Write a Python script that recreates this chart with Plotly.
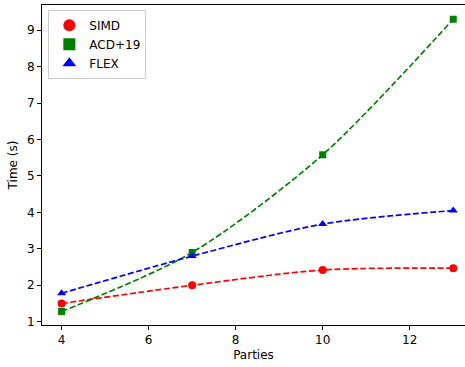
import plotly.graph_objects as go

parties = [4, 7, 10, 13]
simd = [1.50, 2.00, 2.42, 2.47]
acd19 = [1.28, 2.90, 5.58, 9.30]
flex = [1.78, 2.80, 3.68, 4.05]

series = [
    ("SIMD", simd, "red", "circle", 8),
    ("ACD+19", acd19, "green", "square", 7),
    ("FLEX", flex, "blue", "triangle-up", 8),
]

fig = go.Figure()
for name, ys, color, sym, sz in series:
    fig.add_trace(go.Scatter(
        x=parties, y=ys, mode="lines", showlegend=False,
        line=dict(color=color, dash="6px,2.6px", width=1.7, shape="spline", smoothing=0.8),
        hoverinfo="skip"))
for name, ys, color, sym, sz in series:
    fig.add_trace(go.Scatter(
        x=parties, y=ys, mode="markers", name=name,
        marker=dict(color=color, symbol=sym, size=sz)))

axis_common = dict(showgrid=False, zeroline=False, showline=True, linecolor="black",
                   linewidth=1, ticks="outside", ticklen=4, tickcolor="black",
                   tickfont=dict(family="DejaVu Sans", size=12, color="black"))

fig.update_layout(
    width=465, height=367,
    margin=dict(l=42, r=0, t=5, b=42),
    paper_bgcolor="white", plot_bgcolor="white",
    font=dict(family="DejaVu Sans", size=12, color="black"),
    xaxis=dict(range=[3.55, 13.27], tickvals=[4, 6, 8, 10, 12], mirror=True,
               title=dict(text="Parties", font=dict(size=12), standoff=4), **axis_common),
    yaxis=dict(range=[0.91, 9.69], tickvals=[1, 2, 3, 4, 5, 6, 7, 8, 9],
               title=dict(text="Time (s)", font=dict(size=12), standoff=6), **axis_common),
    legend=dict(x=0.015, y=0.985, xanchor="left", yanchor="top",
                bordercolor="#cccccc", borderwidth=1, bgcolor="rgba(255,255,255,0.8)",
                font=dict(size=12), itemsizing="constant", tracegroupgap=0),
)

fig.write_html("out.html")
